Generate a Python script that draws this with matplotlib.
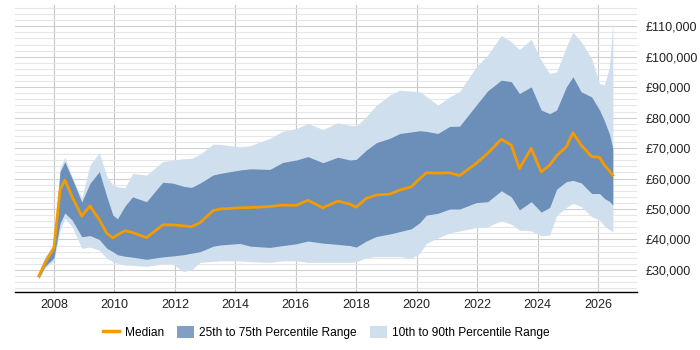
import matplotlib
matplotlib.use("Agg")
import matplotlib.pyplot as plt
from matplotlib.lines import Line2D
from matplotlib.patches import Patch
from matplotlib.ticker import MultipleLocator, FuncFormatter

# salary percentiles over time (values in £k)
YEARS = [2007.5, 2007.7, 2008.0, 2008.2, 2008.36, 2008.6, 2008.92, 2009.19, 2009.5,
         2009.75, 2009.95, 2010.1, 2010.35, 2010.6, 2011.06, 2011.6, 2011.93, 2012.27,
         2012.55, 2012.83, 2013.27, 2013.5, 2014.15, 2014.5, 2015.14, 2015.57, 2016.02,
         2016.4, 2016.9, 2017.39, 2017.79, 2018.0, 2018.33, 2018.67, 2019.11, 2019.44,
         2019.82, 2020.1, 2020.32, 2020.7, 2021.09, 2021.42, 2021.97, 2022.35, 2022.8,
         2023.13, 2023.4, 2023.79, 2024.12, 2024.4, 2024.63, 2024.95, 2025.17, 2025.44,
         2025.79, 2026.05, 2026.21, 2026.38, 2026.49]
P10 = [27.0, 30.6, 33.0, 43.0, 47.0, 44.2, 37.1, 37.5, 36.5,
       33.8, 32.7, 32.2, 31.6, 31.5, 31.2, 32.0, 32.0, 29.5,
       30.0, 32.5, 32.8, 33.0, 33.0, 32.7, 32.5, 33.0, 33.0,
       32.5, 32.5, 32.5, 32.5, 32.7, 34.0, 34.4, 34.4, 34.4,
       33.8, 35.5, 38.7, 40.5, 42.2, 42.8, 43.9, 44.2, 46.2,
       45.0, 43.1, 42.8, 41.2, 41.5, 47.8, 50.5, 51.9, 50.8,
       47.5, 46.4, 44.5, 43.2, 42.6]
P25 = [27.3, 31.2, 34.0, 45.3, 48.7, 46.4, 40.9, 41.3, 40.0,
       37.1, 36.0, 35.0, 34.5, 34.2, 33.5, 34.3, 34.6, 35.0,
       35.5, 36.0, 37.8, 38.2, 38.7, 37.8, 37.4, 38.0, 38.6,
       39.5, 38.8, 38.4, 38.0, 37.5, 39.5, 41.0, 41.8, 42.6,
       43.5, 45.5, 48.0, 48.6, 50.0, 50.0, 52.1, 52.4, 56.0,
       54.0, 49.7, 52.4, 49.0, 50.5, 56.5, 59.0, 59.4, 58.6,
       55.1, 55.1, 53.5, 52.5, 51.3]
MEDIAN = [28.0, 32.3, 37.3, 56.2, 59.5, 54.0, 47.7, 51.0, 46.5,
          42.0, 40.5, 41.5, 42.9, 42.3, 40.6, 44.8, 44.8, 44.5,
          44.2, 45.5, 49.5, 50.0, 50.4, 50.5, 50.8, 51.3, 51.2,
          52.9, 50.4, 52.6, 51.6, 50.6, 53.5, 54.6, 54.9, 56.2,
          57.3, 60.0, 61.9, 61.8, 61.9, 61.0, 65.0, 68.3, 72.9,
          71.0, 63.3, 69.9, 62.2, 64.4, 67.5, 70.4, 75.0, 71.0,
          67.2, 67.0, 64.4, 62.5, 61.1]
P75 = [28.5, 33.6, 38.2, 62.2, 65.5, 60.0, 52.3, 58.4, 62.3,
       54.0, 48.0, 46.8, 51.0, 54.0, 52.4, 58.8, 58.5, 57.5,
       57.1, 58.5, 61.2, 61.7, 62.8, 63.2, 63.0, 65.3, 66.1,
       67.2, 65.2, 67.0, 66.1, 66.3, 69.3, 71.8, 73.2, 74.8,
       75.3, 75.7, 75.5, 74.8, 77.1, 77.2, 84.1, 88.8, 92.3,
       91.8, 87.9, 90.1, 82.5, 81.3, 82.5, 90.1, 93.4, 88.5,
       86.8, 82.5, 79.0, 74.5, 69.9]
P90 = [29.0, 34.3, 38.8, 63.5, 67.0, 60.5, 53.5, 64.4, 68.5,
       60.6, 57.9, 57.3, 57.0, 61.7, 61.1, 65.6, 66.0, 66.5,
       66.6, 68.0, 71.3, 71.2, 70.4, 70.8, 73.2, 75.5, 76.4,
       78.1, 76.1, 78.3, 77.5, 77.2, 80.3, 84.1, 87.4, 89.0,
       88.7, 88.5, 87.0, 84.1, 86.8, 88.5, 96.7, 100.5, 107.0,
       104.9, 102.3, 105.7, 98.8, 94.5, 95.0, 103.2, 108.0, 104.9,
       99.4, 91.2, 90.7, 96.7, 111.4]

X_TICKS = list(range(2008, 2027, 2))
Y_TICKS = list(range(30000, 110001, 10000))

ORANGE = "#f59b00"
DARK = "#6b8fb9"
DARK_LEG = "#829fc3"
LIGHT = "#d0dfee"

plt.rcParams["font.family"] = ["Liberation Sans", "DejaVu Sans"]

k = lambda vals: [v * 1000 for v in vals]

fig = plt.figure(figsize=(7, 3.5), dpi=100)
ax = fig.add_axes([0.0214, 0.166, 0.8886, 0.82])

ax.fill_between(YEARS, k(P10), k(P90), color=LIGHT, lw=0, zorder=2)
ax.fill_between(YEARS, k(P25), k(P75), color=DARK, lw=0, zorder=3)
ax.plot(YEARS, k(MEDIAN), color=ORANGE, lw=2, zorder=4)

ax.set_xlim(2006.71, 2027.29)
ax.set_ylim(22800, 117000)
ax.set_xticks(X_TICKS)
ax.set_yticks(Y_TICKS)
ax.yaxis.set_minor_locator(MultipleLocator(2000))
ax.yaxis.set_major_formatter(FuncFormatter(lambda v, p: f"£{v:,.0f}"))
ax.yaxis.tick_right()

ax.grid(axis="x", color="#c8c8c8", lw=0.8, zorder=1)
ax.grid(axis="y", which="major", color="#d0d0d0", lw=0.8, zorder=1)
ax.grid(axis="y", which="minor", color="#e6e6e6", lw=0.8, zorder=1)
ax.set_axisbelow(True)

for s in ("top", "left", "right"):
    ax.spines[s].set_visible(False)
ax.spines["bottom"].set_color("black")
ax.spines["bottom"].set_linewidth(1)
ax.tick_params(axis="both", which="both", length=0, labelsize=9, colors="#222222")
ax.tick_params(axis="y", pad=6)
ax.tick_params(axis="x", pad=5)

handles = [Line2D([0], [0], color=ORANGE, lw=2.5),
           Patch(facecolor=DARK_LEG, edgecolor="none"),
           Patch(facecolor=LIGHT, edgecolor="none")]
labels = ["Median", "25th to 75th Percentile Range", "10th to 90th Percentile Range"]
fig.legend(handles, labels, loc="center", bbox_to_anchor=(0.466, 0.05), ncol=3,
           frameon=False, fontsize=8.6, handlelength=1.4, handleheight=1.1,
           columnspacing=1.1, handletextpad=0.45)

fig.savefig("out.png", dpi=100)
